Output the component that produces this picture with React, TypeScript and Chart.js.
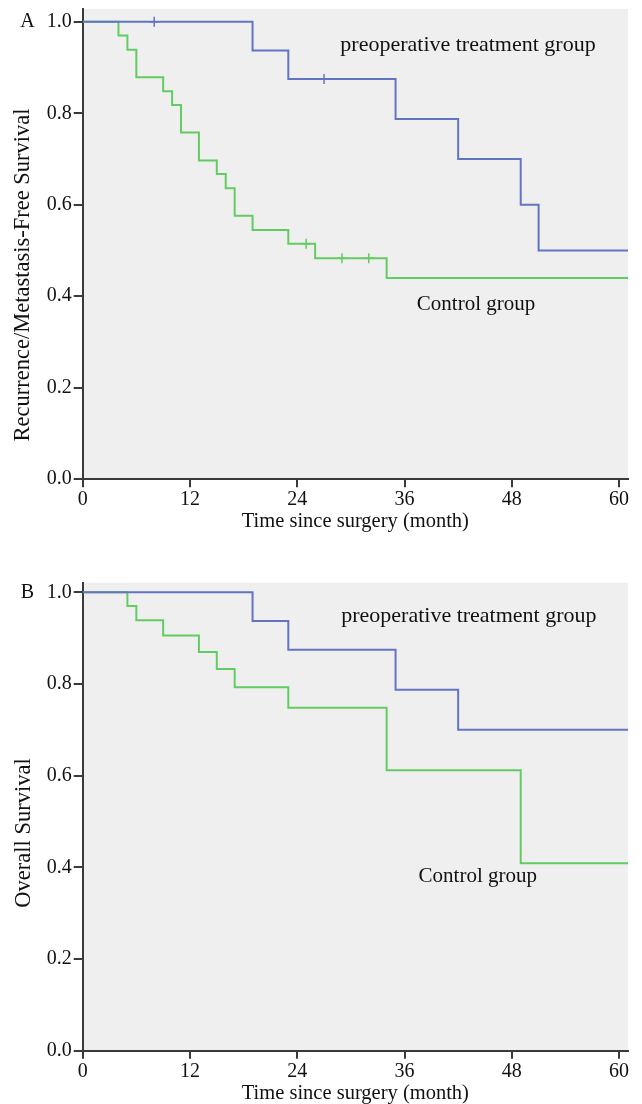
import React, { useEffect, useRef } from "react";
import { Chart, registerables } from "chart.js";

Chart.register(...registerables);

// ---------- data ----------
const xTickValues = [0, 12, 24, 36, 48, 60];
const yTickValues = [0, 0.2, 0.4, 0.6, 0.8, 1.0];

const groupNames = ["preoperative treatment group", "Control group"];

// Panel A: recurrence/metastasis-free survival
const rfsPreopTimes = [0, 19, 23, 35, 42, 49, 51, 61];
const rfsPreopSurv = [1, 0.9375, 0.875, 0.7875, 0.7, 0.6, 0.5, 0.5];
const rfsPreopCensorTimes = [8, 27];
const rfsPreopCensorSurv = [1, 0.875];

const rfsControlTimes = [0, 4, 5, 6, 9, 10, 11, 13, 15, 16, 17, 19, 23, 26, 34, 61];
const rfsControlSurv = [1, 0.97, 0.939, 0.879, 0.848, 0.818, 0.758, 0.697, 0.667, 0.636, 0.576, 0.545, 0.515, 0.483, 0.44, 0.44];
const rfsControlCensorTimes = [25, 29, 32];
const rfsControlCensorSurv = [0.515, 0.483, 0.483];

// Panel B: overall survival
const osPreopTimes = [0, 19, 23, 35, 42, 61];
const osPreopSurv = [1, 0.9375, 0.875, 0.7875, 0.7, 0.7];
const osControlTimes = [0, 5, 6, 9, 13, 15, 17, 23, 34, 49, 61];
const osControlSurv = [1, 0.97, 0.939, 0.906, 0.87, 0.833, 0.793, 0.748, 0.612, 0.409, 0.409];

// ---------- styles ----------
const FONT = "'Liberation Serif', 'Times New Roman', serif";
const BLUE = "#6474c4";
const GREEN = "#62cc62";
const AXIS = "#3a3a3a";
const PLOT_BG = "#efefef";

const pts = (xs: number[], ys: number[]) => xs.map((x, i) => ({ x, y: ys[i] }));

type PanelCfg = {
  letter: string;
  yTitle: string;
  height: number;
  padTop: number;
  padBottom: number;
  yMax: number;
  yTitleCenter: [number, number];
  preop: { t: number[]; s: number[]; ct: number[]; cs: number[] };
  control: { t: number[]; s: number[]; ct: number[]; cs: number[] };
  preopLabelAt: [number, number];
  controlLabelAt: [number, number];
};

const panels: PanelCfg[] = [
  {
    letter: "A",
    yTitle: "Recurrence/Metastasis-Free Survival",
    height: 540,
    padTop: 9,
    padBottom: 7.6,
    yMax: 1.028,
    yTitleCenter: [23.5, 275],
    preop: { t: rfsPreopTimes, s: rfsPreopSurv, ct: rfsPreopCensorTimes, cs: rfsPreopCensorSurv },
    control: { t: rfsControlTimes, s: rfsControlSurv, ct: rfsControlCensorTimes, cs: rfsControlCensorSurv },
    preopLabelAt: [43.1, 0.949],
    controlLabelAt: [44.0, 0.381],
  },
  {
    letter: "B",
    yTitle: "Overall Survival",
    height: 564,
    padTop: 42.7,
    padBottom: 0,
    yMax: 1.021,
    yTitleCenter: [24, 293],
    preop: { t: osPreopTimes, s: osPreopSurv, ct: [], cs: [] },
    control: { t: osControlTimes, s: osControlSurv, ct: [], cs: [] },
    preopLabelAt: [43.2, 0.947],
    controlLabelAt: [44.2, 0.381],
  },
];

function KMPanel({ cfg }: { cfg: PanelCfg }) {
  const ref = useRef<HTMLCanvasElement | null>(null);

  useEffect(() => {
    if (!ref.current) return;
    const decor = {
      id: "decor",
      beforeDraw(chart: any) {
        const { ctx, chartArea } = chart;
        ctx.save();
        ctx.fillStyle = PLOT_BG;
        ctx.fillRect(chartArea.left, chartArea.top, chartArea.right - chartArea.left, chartArea.bottom - chartArea.top);
        ctx.restore();
      },
      afterDraw(chart: any) {
        const { ctx } = chart;
        const xs = chart.scales.x;
        const ys = chart.scales.y;
        ctx.save();
        ctx.fillStyle = "#111";
        // panel letter
        ctx.font = `20px ${FONT}`;
        ctx.textAlign = "center";
        ctx.textBaseline = "middle";
        ctx.fillText(cfg.letter, 27.5, ys.getPixelForValue(1.0));
        // group labels
        ctx.font = `22px ${FONT}`;
        ctx.fillText(groupNames[0], xs.getPixelForValue(cfg.preopLabelAt[0]), ys.getPixelForValue(cfg.preopLabelAt[1]));
        ctx.font = `21px ${FONT}`;
        ctx.fillText(groupNames[1], xs.getPixelForValue(cfg.controlLabelAt[0]), ys.getPixelForValue(cfg.controlLabelAt[1]));
        // y title
        ctx.font = `22.5px ${FONT}`;
        ctx.translate(cfg.yTitleCenter[0], cfg.yTitleCenter[1]);
        ctx.rotate(-Math.PI / 2);
        ctx.fillText(cfg.yTitle, 0, 0);
        ctx.restore();
      },
    };

    const lineDs = (label: string, data: any[], color: string) => ({
      type: "line" as const,
      label,
      data,
      borderColor: color,
      borderWidth: 2,
      pointRadius: 0,
      stepped: "before" as const,
      fill: false,
    });
    const censorDs = (label: string, data: any[], color: string) => ({
      type: "scatter" as const,
      label,
      data,
      pointStyle: "cross",
      pointRadius: 5,
      borderColor: color,
      borderWidth: 1.5,
      backgroundColor: color,
    });

    const chart = new Chart(ref.current, {
      type: "line",
      data: {
        datasets: [
          lineDs(groupNames[0], pts(cfg.preop.t, cfg.preop.s), BLUE),
          lineDs(groupNames[1], pts(cfg.control.t, cfg.control.s), GREEN),
          censorDs(groupNames[0] + " censored", pts(cfg.preop.ct, cfg.preop.cs), BLUE),
          censorDs(groupNames[1] + " censored", pts(cfg.control.ct, cfg.control.cs), GREEN),
        ],
      },
      options: {
        responsive: false,
        animation: false,
        devicePixelRatio: 1,
        layout: { padding: { left: 0, right: 14, top: cfg.padTop, bottom: cfg.padBottom } },
        plugins: { legend: { display: false }, tooltip: { enabled: false } },
        scales: {
          x: {
            type: "linear",
            position: "bottom",
            min: 0,
            max: 61,
            afterBuildTicks: (s: any) => {
              s.ticks = xTickValues.map((v) => ({ value: v }));
            },
            afterFit: (s: any) => {
              s.height = 53.2;
              s.paddingLeft = 0;
              s.paddingRight = 0;
            },
            ticks: {
              autoSkip: false,
              maxRotation: 0,
              padding: 1,
              color: "#111",
              font: { family: FONT, size: 20 },
              callback: (v: any) => String(v),
            },
            grid: { drawOnChartArea: false, drawTicks: true, tickLength: 8, color: AXIS, lineWidth: 2 },
            border: { display: true, color: AXIS, width: 2 },
            title: {
              display: true,
              text: "Time since surgery (month)",
              color: "#111",
              font: { family: FONT, size: 20.5, lineHeight: 1.0 },
              padding: { top: 0, bottom: 0.5 },
            },
          },
          y: {
            type: "linear",
            min: 0,
            max: cfg.yMax,
            afterBuildTicks: (s: any) => {
              s.ticks = yTickValues.map((v) => ({ value: v }));
            },
            afterFit: (s: any) => {
              s.width = 82.7;
              s.paddingTop = 0;
              s.paddingBottom = 0;
            },
            ticks: {
              padding: 2,
              color: "#111",
              font: { family: FONT, size: 20 },
              callback: (v: any) => Number(v).toFixed(1),
            },
            grid: { drawOnChartArea: false, drawTicks: true, tickLength: 9, color: AXIS, lineWidth: 2 },
            border: { display: true, color: AXIS, width: 2 },
          },
        },
      },
      plugins: [decor],
    });
    return () => chart.destroy();
  }, [cfg]);

  return <canvas ref={ref} width={642} height={cfg.height} style={{ display: "block", width: 642, height: cfg.height }} />;
}

export default function App() {
  useEffect(() => {
    document.body.style.margin = "0";
    document.body.style.overflow = "hidden";
    document.body.style.background = "#ffffff";
  }, []);
  return (
    <div style={{ width: 642, background: "#fff" }}>
      {panels.map((p) => (
        <KMPanel key={p.letter} cfg={p} />
      ))}
    </div>
  );
}
